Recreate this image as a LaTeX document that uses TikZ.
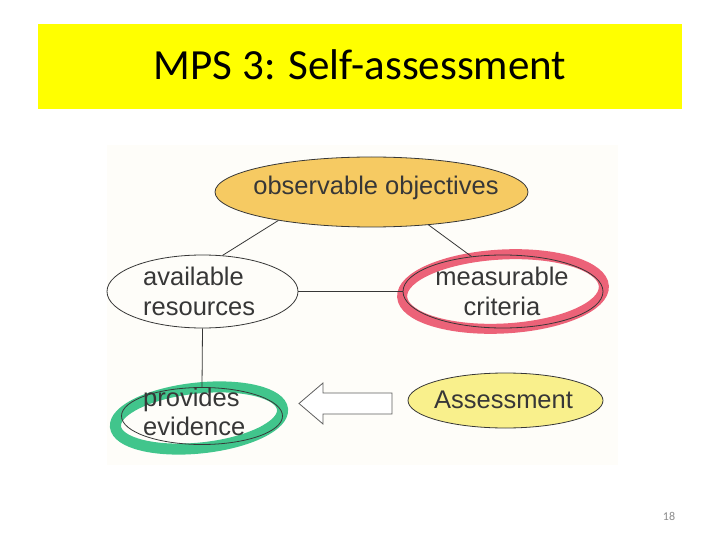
\documentclass[tikz,border=0pt]{standalone}
\usepackage{fontspec}
\setmainfont{Liberation Sans}
\newfontfamily\titlefont{Carlito}
\usetikzlibrary{shapes.geometric}
\definecolor{titleyellow}{RGB}{255,255,0}
\definecolor{objfill}{RGB}{246,202,98}
\definecolor{assfill}{RGB}{249,240,140}
\definecolor{redring}{RGB}{233,72,98}
\definecolor{greenring}{RGB}{32,188,122}
\definecolor{ink}{RGB}{55,55,55}
\definecolor{paper}{RGB}{254,253,249}
\definecolor{pagegray}{RGB}{140,140,140}
\tikzset{
  oval/.style={ellipse, draw=ink, line width=0.8pt, inner sep=0pt},
  lbl/.style={text=ink, inner sep=0pt, font=\fontsize{25.5}{30}\selectfont},
  link/.style={draw=ink, line width=0.8pt},
  ring/.style={line width=10pt, opacity=0.85},
  blockarrow/.style={draw=ink!80, line width=0.8pt, fill=white, line join=miter}
}
\begin{document}
\begin{tikzpicture}[x=1pt,y=-1pt]
\useasboundingbox (0,0) rectangle (720,540);
\fill[white] (0,0) rectangle (720,540);
% title bar
\node[fill=titleyellow, minimum width=644pt, minimum height=85pt, inner sep=0pt, anchor=north west] (titlebar) at (38,24) {};
\node[anchor=base, inner sep=0pt, font=\titlefont\fontsize{43}{50}\selectfont] (title) at (360,80) {MPS 3: Self-assessment};
% paper background of the picture
\node[fill=paper, minimum width=511pt, minimum height=320pt, inner sep=0pt, anchor=north west] (bg) at (107,145) {};
% rings (under the outlines)
\draw[ring, draw=redring, rotate around={3:(503,291.5)}] (503,291.5) ellipse [x radius=101, y radius=37];
\draw[ring, draw=greenring, line width=11pt, rotate around={6:(199,418)}] (199,418) ellipse [x radius=84, y radius=30];
% ellipses
\node[oval, fill=objfill, minimum width=313pt, minimum height=70pt] (obj) at (371.5,192) {};
\node[oval, minimum width=191pt, minimum height=73pt] (res) at (202.5,291.5) {};
\node[oval, minimum width=200pt, minimum height=73pt] (crit) at (503,291.5) {};
\node[oval, minimum width=161pt, minimum height=57pt] (evid) at (202,416) {};
\node[oval, fill=assfill, minimum width=195pt, minimum height=55pt] (ass) at (505.5,400.5) {};
% labels (base anchor = baseline of the last line)
\node[lbl, anchor=base] (objT) at (376,195) {observable objectives};
\node[lbl, align=left, anchor=base west] (resT) at (143,315) {available\\resources};
\node[lbl, align=center, anchor=base] (critT) at (502,315) {measurable\\criteria};
\node[lbl, align=left, anchor=base west, font=\fontsize{25.5}{29}\selectfont] (evidT) at (143,435) {provides\\evidence};
\node[lbl, anchor=base] (assT) at (503.5,408) {Assessment};
% connectors
\draw[link] (obj.197) -- (res.61);
\draw[link] (obj.-30) -- (crit.132);
\draw[link] (res) -- (crit);
\draw[link] (res.south) -- (evid.north);
% hollow block arrow from Assessment to evidence
\coordinate (tip) at (299,403.5);
\draw[blockarrow] (tip) -- (323,383) -- (323,393) -- (392,393) -- (392,414) -- (323,414) -- (323,424) -- cycle;
% page number
\node[anchor=base, inner sep=0pt, text=pagegray, font=\titlefont\fontsize{12}{14}\selectfont] (page) at (669,520) {18};
\end{tikzpicture}
\end{document}
